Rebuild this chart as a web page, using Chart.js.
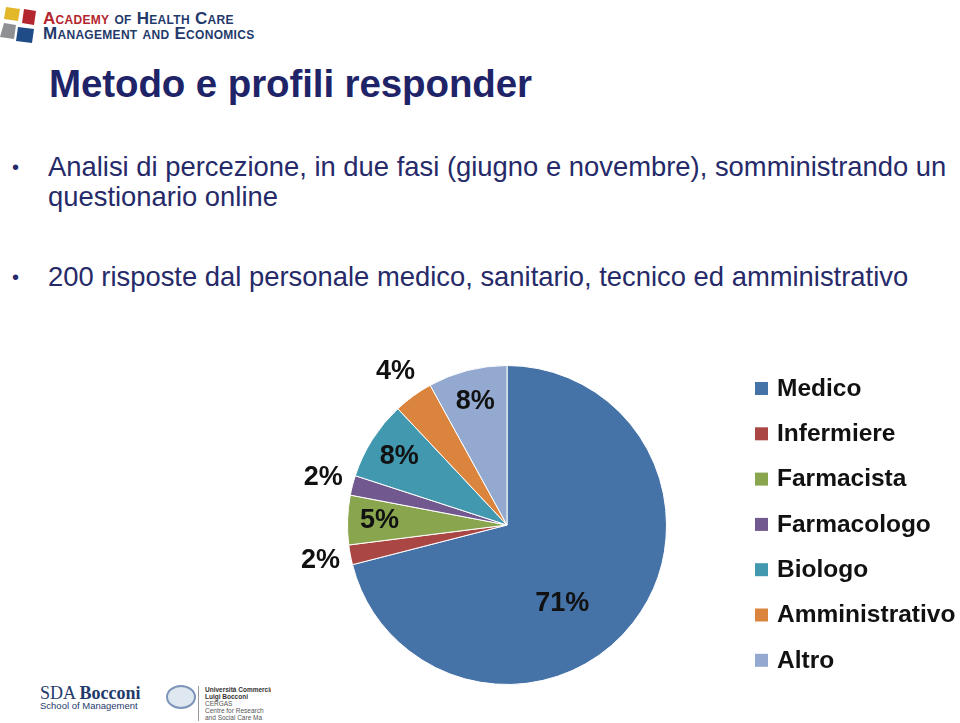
<!DOCTYPE html>
<html>
<head>
<meta charset="utf-8">
<script src="https://cdn.jsdelivr.net/npm/chart.js@4.4.0/dist/chart.umd.min.js"></script>
<style>
  html, body { margin: 0; padding: 0; background: #fff; }
  body { width: 960px; height: 723px; position: relative; overflow: hidden; font-family: "Liberation Sans", Arial, sans-serif; }
  .logo-top { position: absolute; left: 0; top: 5px; width: 40px; height: 40px; }
  .academy { position: absolute; left: 43px; top: 11px; font-family: "Liberation Sans", Arial, sans-serif; font-weight: bold; font-variant: small-caps; font-size: 17px; line-height: 15px; color: #1f3a6b; letter-spacing: 0.3px; }
  .academy .red { color: #b3262d; }
  h1 { position: absolute; left: 49px; top: 62px; margin: 0; font-size: 38.5px; font-weight: bold; color: #1f2468; letter-spacing: -0.1px; }
  .bullets { position: absolute; left: 0; top: 152px; width: 960px; font-size: 27.4px; color: #262a69; }
  .b { position: absolute; left: 48px; line-height: 30px; white-space: nowrap; }
  .b::before { content: "\2022"; position: absolute; left: -36px; font-size: 20px; }
  #wrap { position: absolute; left: 280px; top: 340px; width: 680px; height: 360px; }
  .sda { position: absolute; left: 40px; top: 685px; color: #1f3a6b; }
  .sda .big { font-family: "Liberation Serif", serif; font-size: 18px; line-height: 16px; }
  .sda .small { font-size: 9.5px; line-height: 10px; }
  .seal { position: absolute; left: 166px; top: 685px; width: 26px; height: 20px; border-radius: 50%; border: 2px solid #7d95b8; background: #dfe7f1; }
  .uni { position: absolute; left: 198px; top: 686px; border-left: 1px solid #999; padding-left: 6px; font-size: 6.5px; line-height: 7px; color: #555; white-space: nowrap; width: 66px; overflow: hidden; }
  .uni b { color: #333; }
</style>
</head>
<body>
<svg class="logo-top" viewBox="0 0 40 40">
  <path d="M6 2 L20 4 L18 16 L4 14 Z" fill="#e3b72a"/>
  <path d="M24 4 L36 6 L34 20 L22 18 Z" fill="#b3262d"/>
  <path d="M4 18 L16 20 L14 34 L0 32 Z" fill="#8e9094"/>
  <path d="M18 22 L34 24 L32 38 L16 36 Z" fill="#1f4b87"/>
</svg>
<div class="academy"><span class="red">Academy</span> of Health Care<br>Management and Economics</div>

<h1>Metodo e profili responder</h1>
<div class="bullets">
  <div class="b" style="top:0">Analisi di percezione, in due fasi (giugno e novembre), somministrando un<br>questionario online</div>
  <div class="b" style="top:110px">200 risposte dal personale medico, sanitario, tecnico ed amministrativo</div>
</div>

<div id="wrap"><canvas id="pieChart" width="680" height="360"></canvas></div>

<div class="sda"><div class="big">SDA <b>Bocconi</b></div><div class="small">School of Management</div></div>
<div class="seal"></div>
<div class="uni"><b>Università Commerciale<br>Luigi Bocconi</b><br>CERGAS<br>Centre for Research<br>and Social Care Ma</div>

<script>
const categories = ["Medico", "Infermiere", "Farmacista", "Farmacologo", "Biologo", "Amministrativo", "Altro"];
const shares = [71, 2, 5, 2, 8, 4, 8];
const sliceColors = ["#4572a7", "#aa4643", "#89a54e", "#71588f", "#4198af", "#db843d", "#93a9cf"];

// percentage labels: small slices outside, others inside
const pctLabels = {
    id: "pctLabels",
    afterDatasetsDraw(chart) {
        const ctx = chart.ctx;
        const meta = chart.getDatasetMeta(0);
        ctx.save();
        ctx.font = "bold 27px 'Liberation Sans', Arial, sans-serif";
        ctx.fillStyle = "#111";
        ctx.textAlign = "center";
        ctx.textBaseline = "middle";
        meta.data.forEach((arc, i) => {
            const p = arc.getProps(["x", "y", "startAngle", "endAngle", "outerRadius"], true);
            let mid = (p.startAngle + p.endAngle) / 2;
            let f = 0.8;
            if (shares[i] < 5) f = 1.19;
            else if (shares[i] > 50) {
                // big slice: label pushed towards its lower part
                f = 0.6;
                mid = p.startAngle + (p.endAngle - p.startAngle) * 0.566;
            }
            const r = p.outerRadius * f;
            ctx.fillText(shares[i] + "%", p.x + Math.cos(mid) * r, p.y + Math.sin(mid) * r);
        });
        ctx.restore();
    }
};

// legend drawn at the right of the pie
const sideLegend = {
    id: "sideLegend",
    afterDraw(chart) {
        const ctx = chart.ctx;
        ctx.save();
        ctx.font = "bold 24.5px 'Liberation Sans', Arial, sans-serif";
        ctx.textBaseline = "middle";
        ctx.textAlign = "left";
        categories.forEach((name, i) => {
            const y = 48 + i * 45.3;
            ctx.fillStyle = sliceColors[i];
            ctx.fillRect(475, y - 6, 13, 13);
            ctx.fillStyle = "#111";
            ctx.fillText(name, 497, y + 1);
        });
        ctx.restore();
    }
};

const ctx = document.getElementById("pieChart").getContext("2d");
new Chart(ctx, {
    type: "pie",
    data: {
        labels: categories,
        datasets: [{
            data: shares,
            backgroundColor: sliceColors,
            borderColor: "#ffffff",
            borderWidth: 1
        }]
    },
    options: {
        responsive: false,
        animation: false,
        layout: { padding: { left: 67, right: 293, top: 25, bottom: 15 } },
        plugins: {
            legend: { display: false },
            tooltip: { enabled: false }
        }
    },
    plugins: [pctLabels, sideLegend]
});
</script>
</body>
</html>
